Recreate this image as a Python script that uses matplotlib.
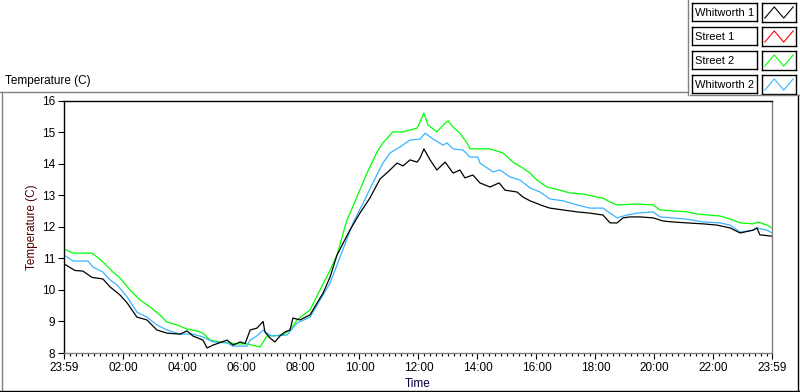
import numpy as np
import matplotlib.pyplot as plt
from matplotlib.lines import Line2D
from matplotlib.ticker import FixedLocator

# hours elapsed since 23:59, temperature in C
t_w1 = [0.0, 0.37, 0.64, 0.95, 1.32, 1.56, 1.9, 2.14, 2.47, 2.81, 3.15, 3.49, 3.93, 4.17, 4.37,
        4.71, 4.85, 5.05, 5.53, 5.73, 5.97, 6.14, 6.31, 6.54, 6.75, 6.81, 6.98, 7.15, 7.32, 7.49,
        7.66, 7.76, 8.0, 8.34, 8.58, 8.78, 9.02, 9.25, 9.69, 10.03, 10.37, 10.71, 11.05, 11.29,
        11.49, 11.73, 11.97, 12.07, 12.2, 12.41, 12.64, 12.92, 13.19, 13.42, 13.59, 13.86, 14.1,
        14.44, 14.75, 14.95, 15.36, 15.56, 15.8, 16.24, 16.47, 16.92, 17.39, 17.83, 18.27, 18.51,
        18.75, 18.95, 19.19, 19.53, 19.97, 20.31, 20.64, 21.12, 21.66, 22.14, 22.58, 22.92, 23.36,
        23.49, 23.59, 24.0]
w1 = [10.83, 10.62, 10.6, 10.4, 10.35, 10.1, 9.84, 9.59, 9.14, 9.05, 8.73, 8.63, 8.6, 8.7, 8.54,
      8.41, 8.16, 8.25, 8.41, 8.25, 8.35, 8.3, 8.73, 8.79, 9.0, 8.67, 8.48, 8.35, 8.54, 8.67,
      8.73, 9.11, 9.05, 9.21, 9.59, 9.9, 10.41, 11.1, 11.9, 12.44, 12.92, 13.52, 13.81, 14.03,
      13.94, 14.13, 14.06, 14.19, 14.48, 14.13, 13.81, 14.06, 13.71, 13.81, 13.56, 13.65, 13.4,
      13.27, 13.4, 13.17, 13.11, 12.95, 12.83, 12.67, 12.6, 12.54, 12.48, 12.44, 12.38, 12.13,
      12.13, 12.29, 12.32, 12.32, 12.29, 12.19, 12.16, 12.13, 12.1, 12.06, 11.97, 11.81, 11.9,
      11.97, 11.75, 11.71]

t_w2 = [0.0, 0.31, 0.81, 0.98, 1.32, 1.56, 1.8, 2.14, 2.47, 2.81, 3.15, 3.49, 3.93, 4.37, 4.71,
        5.05, 5.53, 5.73, 6.2, 6.31, 6.54, 6.75, 6.88, 7.05, 7.56, 7.9, 8.34, 8.68, 9.02, 9.36,
        9.8, 10.14, 10.47, 10.81, 11.05, 11.39, 11.73, 12.07, 12.24, 12.51, 12.85, 12.98, 13.19,
        13.53, 13.76, 14.03, 14.1, 14.54, 14.78, 15.12, 15.46, 15.8, 16.14, 16.47, 16.92, 17.39,
        17.83, 18.27, 18.51, 18.75, 19.08, 19.42, 19.97, 20.2, 21.12, 21.66, 22.24, 22.58, 22.92,
        23.36, 23.49, 23.83, 24.0]
w2 = [11.11, 10.92, 10.92, 10.73, 10.57, 10.32, 10.16, 9.78, 9.3, 9.14, 8.89, 8.73, 8.6, 8.6, 8.51,
      8.35, 8.32, 8.22, 8.22, 8.41, 8.54, 8.73, 8.63, 8.54, 8.57, 8.95, 9.14, 9.68, 10.22, 11.05,
      12.13, 12.76, 13.4, 14.03, 14.35, 14.54, 14.76, 14.79, 14.98, 14.79, 14.6, 14.67, 14.48,
      14.44, 14.22, 14.22, 14.03, 13.75, 13.81, 13.59, 13.49, 13.24, 13.11, 12.89, 12.83, 12.7,
      12.6, 12.6, 12.44, 12.29, 12.38, 12.44, 12.48, 12.32, 12.25, 12.16, 12.13, 12.06, 11.84,
      11.9, 11.97, 11.9, 11.81]

t_s2 = [0.0, 0.31, 0.95, 1.12, 1.32, 1.66, 1.9, 2.24, 2.58, 2.92, 3.25, 3.49, 3.83, 4.17, 4.51,
        4.71, 4.95, 5.29, 5.63, 5.86, 6.2, 6.64, 6.75, 6.88, 7.42, 7.66, 7.9, 8.34, 8.68, 9.02,
        9.25, 9.59, 9.93, 10.27, 10.61, 10.81, 11.15, 11.49, 11.73, 11.97, 12.07, 12.2, 12.34,
        12.64, 12.92, 13.02, 13.19, 13.42, 13.66, 13.76, 14.44, 14.88, 15.22, 15.56, 15.8, 16.03,
        16.37, 16.81, 17.15, 17.59, 18.07, 18.27, 18.51, 18.75, 19.42, 19.97, 20.2, 21.12, 21.46,
        22.24, 22.68, 22.92, 23.36, 23.53, 23.83, 24.0]
s2 = [11.3, 11.17, 11.17, 11.05, 10.89, 10.57, 10.38, 10.0, 9.68, 9.46, 9.21, 8.98, 8.89, 8.76, 8.7,
      8.63, 8.41, 8.35, 8.32, 8.29, 8.29, 8.19, 8.35, 8.54, 8.57, 8.73, 9.05, 9.37, 10.0, 10.63,
      11.1, 12.22, 12.95, 13.71, 14.38, 14.67, 15.02, 15.02, 15.08, 15.14, 15.33, 15.62, 15.24,
      15.02, 15.3, 15.37, 15.17, 14.98, 14.67, 14.48, 14.48, 14.35, 14.06, 13.87, 13.71, 13.49,
      13.27, 13.17, 13.08, 13.05, 12.95, 12.92, 12.79, 12.7, 12.73, 12.7, 12.54, 12.48, 12.41,
      12.35, 12.22, 12.13, 12.1, 12.16, 12.06, 11.97]

# Street 1 has no visible trace
t_s1 = []
s1 = []

names = ["Whitworth 1", "Street 1", "Street 2", "Whitworth 2"]
colors = ["#000000", "#ff0000", "#00ff00", "#3ab4ff"]

major_pos = [0] + [2 * k + 1 / 60 for k in range(1, 12)] + [24]
major_lab = ["23:59"] + ["%02d:00" % (2 * k) for k in range(1, 12)] + ["23:59"]
minor_pos = [p for p in np.arange(1 / 60, 24, 0.2) if p > 0.01]

plt.rcParams['font.family'] = ['Liberation Sans', 'DejaVu Sans']
fig = plt.figure(figsize=(8, 3.92), dpi=100)
ax = fig.add_axes([64 / 800, 1 - 353 / 392, (772 - 64) / 800, (353 - 101) / 392])

ax.plot(t_s1, s1, color=colors[1], lw=0.9)
ax.plot(t_s2, s2, color=colors[2], lw=0.9)
ax.plot(t_w2, w2, color=colors[3], lw=0.9)
ax.plot(t_w1, w1, color=colors[0], lw=0.9)

ax.set_xlim(0, 24)
ax.set_ylim(8, 16)
ax.xaxis.set_major_locator(FixedLocator(major_pos))
ax.set_xticklabels(major_lab)
ax.xaxis.set_minor_locator(FixedLocator(minor_pos))
ax.set_yticks(range(8, 17))
ax.tick_params(axis='both', which='major', direction='out', length=4, width=0.8,
               labelsize=8.5, pad=2.5)
ax.tick_params(axis='x', which='minor', direction='out', length=2.5, width=0.8)
ax.spines['left'].set_color('black')
ax.spines['top'].set_color('black')
ax.spines['right'].set_color('#808080')
ax.spines['bottom'].set_color('#808080')
for s in ax.spines.values():
    s.set_linewidth(1.0)

ax.set_xlabel("Time", fontsize=8.5, color='#000040')
ax.xaxis.set_label_coords(0.5, -(384 - 353) / 252)
ax.xaxis.label.set_va('center')
ax.set_ylabel("Temperature (C)", fontsize=8.5, color='#500000')
ax.yaxis.set_label_coords(-(64 - 32) / 708, 0.5)
ax.yaxis.label.set_va('center')

fig.text(5 / 800, 1 - 81 / 392, "Temperature (C)", fontsize=8.5, va='center', ha='left')

# outer frame
fig.add_artist(Line2D([0, 688 / 800], [1 - 91.5 / 392] * 2, color='#808080', lw=1))
fig.add_artist(Line2D([2 / 800] * 2, [1 - 91.5 / 392, 0], color='#808080', lw=1))
fig.add_artist(Line2D([0, 1], [1 / 392] * 2, color='black', lw=1))
fig.add_artist(Line2D([797.5 / 800] * 2, [0, 1 - 95 / 392], color='black', lw=1))
fig.add_artist(Line2D([688 / 800] * 2, [1, 1 - 95 / 392], color='#808080', lw=1))
fig.add_artist(Line2D([690 / 800, 1], [1 - 95 / 392] * 2, color='#808080', lw=1))

# legend
for i, (name, c) in enumerate(zip(names, colors)):
    y0 = 3 + 24 * i
    fig.text(695 / 800, 1 - (y0 + 9.5) / 392, name, fontsize=8, va='center', ha='left')
    tb = fig.add_axes([692 / 800, 1 - (y0 + 18) / 392, 65 / 800, 18 / 392])
    tb.set_xticks([])
    tb.set_yticks([])
    tb.patch.set_alpha(0)
    gl = fig.add_axes([762 / 800, 1 - (y0 + 19) / 392, 34 / 800, 19 / 392])
    gl.plot([0, 1, 2, 3], [0, 1, 0, 1], color=c, lw=0.8)
    gl.set_xlim(-0.3, 3.3)
    gl.set_ylim(-0.35, 1.35)
    gl.set_xticks([])
    gl.set_yticks([])
    for a in (tb, gl):
        for s in a.spines.values():
            s.set_linewidth(1.0)

fig.savefig("out.png", dpi=100)
